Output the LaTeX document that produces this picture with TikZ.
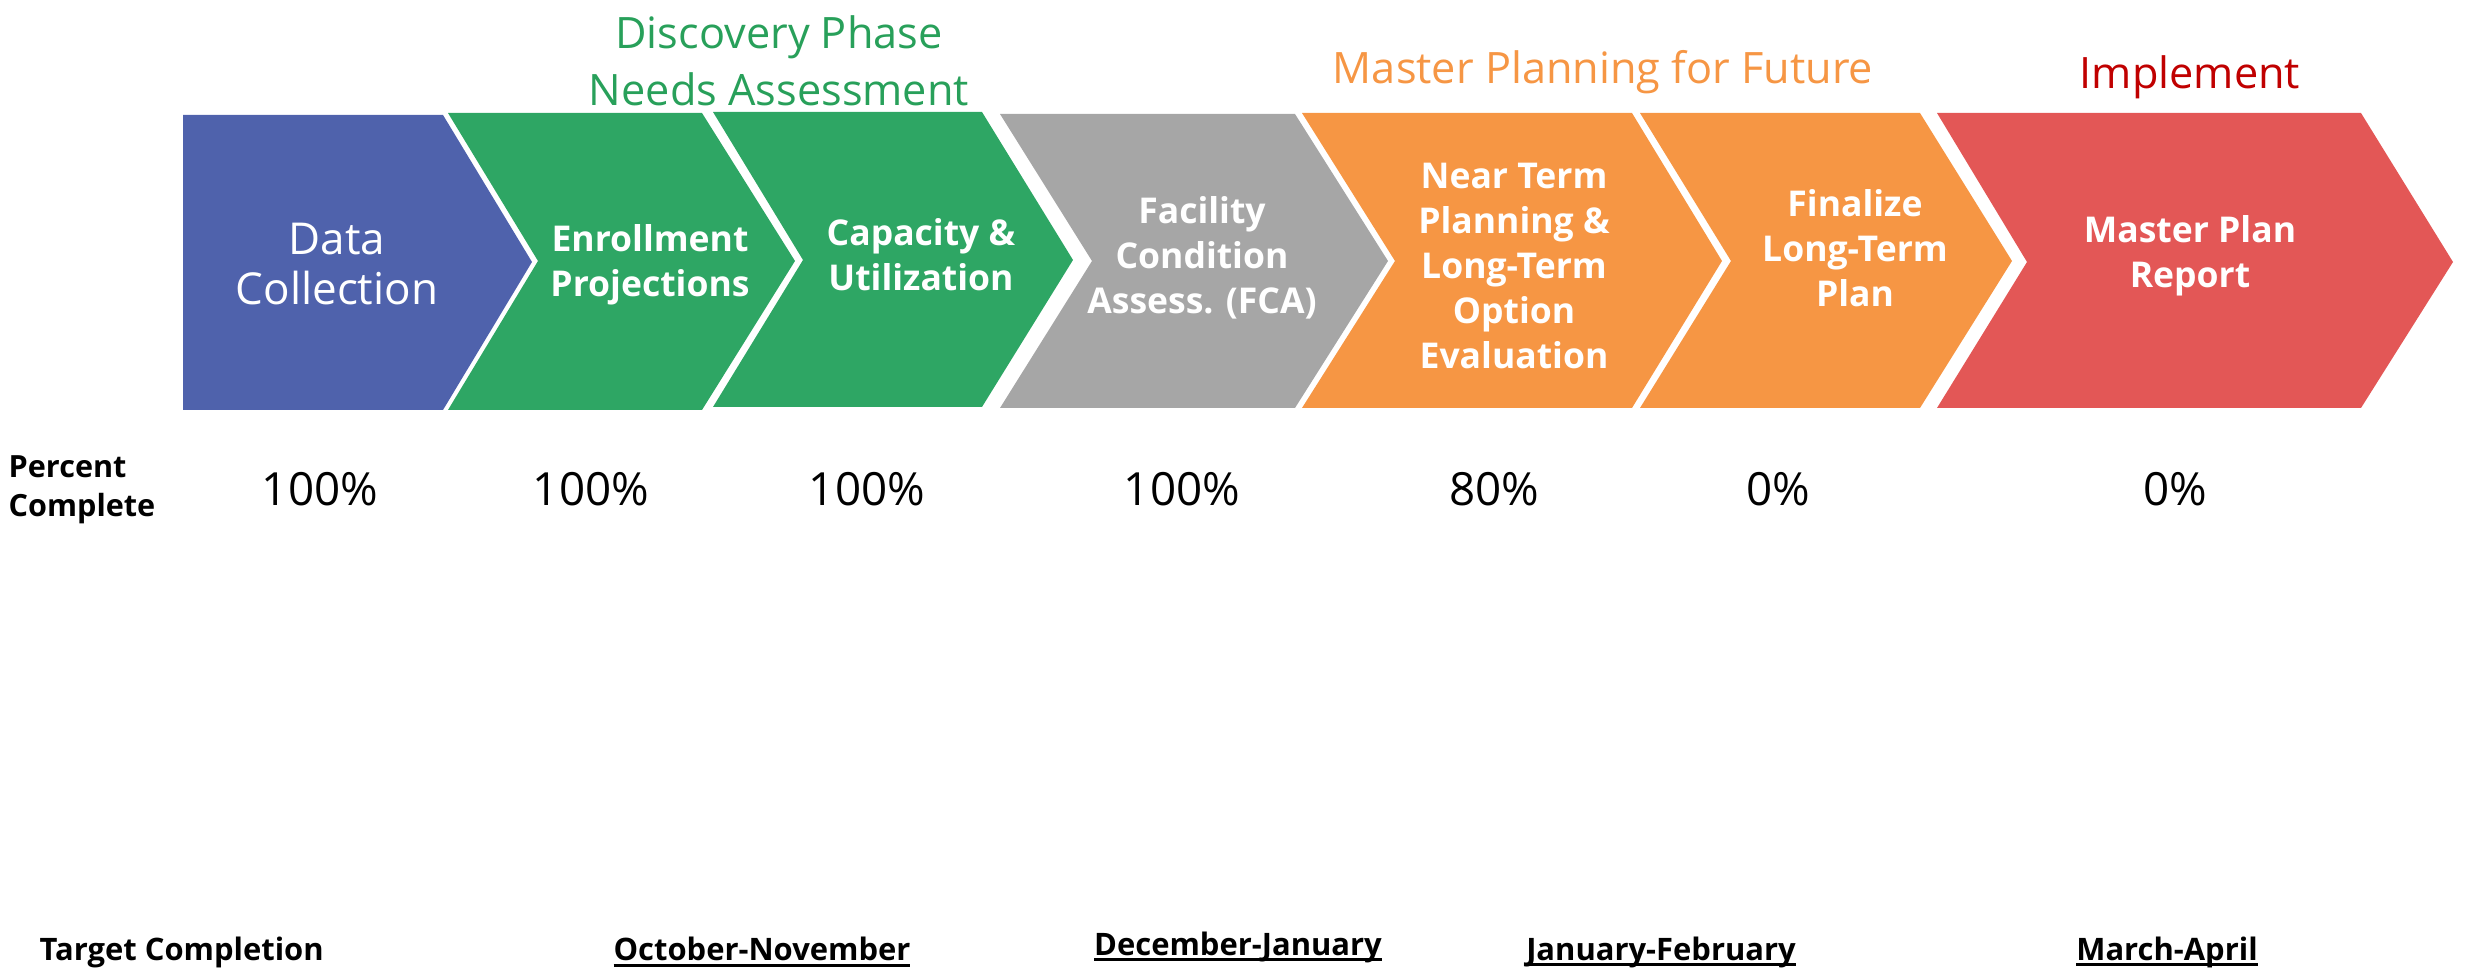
\documentclass[tikz,border=0pt]{standalone}
\usepackage{fontspec}
\setmainfont{Open Sans}
\newcommand\myul[1]{\setbox0\hbox{#1}\rlap{\rule[-1.8pt]{\wd0}{0.85pt}}\box0}
\definecolor{cblue}{RGB}{79,98,172}
\definecolor{cgreen}{RGB}{46,166,100}
\definecolor{cgray}{RGB}{166,166,166}
\definecolor{corange}{RGB}{246,150,68}
\definecolor{cred}{RGB}{227,87,86}
\definecolor{hgreen}{RGB}{40,160,90}
\definecolor{horange}{RGB}{246,150,68}
\definecolor{hred}{RGB}{192,0,0}
\tikzset{
  chevtext/.style={text=white,align=center,font=\fontsize{10.1}{12.8}\selectfont\bfseries},
  hdr/.style={align=center,font=\fontsize{12.3}{16.2}\selectfont},
  pct/.style={font=\fontsize{13}{15}\selectfont},
  tgt/.style={font=\fontsize{8.8}{11}\selectfont\bfseries},
}
\begin{document}
\begin{tikzpicture}[x=0.01cm,y=-0.01cm]
\useasboundingbox (0,0) rectangle (2471,980);
% chevrons
\fill[cblue] (183,115) -- (443,115) -- (532,262) -- (443,410) -- (183,410) -- cycle;
\fill[cgreen] (448,113) -- (702,113) -- (795,261) -- (702,410) -- (448,410) -- (538,261) -- cycle;
\fill[cgreen] (713,112) -- (982,112) -- (1073,260) -- (982,407) -- (713,407) -- (803,260) -- cycle;
\fill[cgray] (1000,114) -- (1295,114) -- (1388,261) -- (1295,408) -- (1000,408) -- (1092,261) -- cycle;
\fill[corange] (1302,113) -- (1632,113) -- (1722,261) -- (1632,408) -- (1302,408) -- (1395,261) -- cycle;
\fill[corange] (1640,113) -- (1920,113) -- (2012,261) -- (1920,408) -- (1640,408) -- (1731,261) -- cycle;
\fill[cred] (1937,113) -- (2361,113) -- (2453,262) -- (2361,408) -- (1937,408) -- (2027,262) -- cycle;
% chevron texts
\node[chevtext,font=\fontsize{12.5}{14}\selectfont] (t1) at (337,264) {Data\\Collection};
\node[chevtext] (t2) at (650,265) {Enrollment\\Projections};
\node[chevtext] (t3) at (921,255) {Capacity \&\\Utilization};
\node[chevtext] (t4) at (1202,258) {Facility\\Condition\\Assess. (FCA)};
\node[chevtext] (t5) at (1514,266) {Near Term\\Planning \&\\Long-Term\\Option\\Evaluation};
\node[chevtext] (t6) at (1855,248) {Finalize\\Long-Term\\Plan};
\node[chevtext] (t7) at (2190,256) {Master Plan\\Report};
% headers
\node[hdr,text=hgreen] (h1) at (779,61) {Discovery Phase\\Needs Assessment};
\node[hdr,text=horange] (h2) at (1603,72) {Master Planning for Future};
\node[hdr,text=hred] (h3) at (2190,77) {Implement};
% percent row
\node[tgt,anchor=west,align=left,inner sep=0pt,font=\fontsize{8.7}{11}\selectfont\bfseries] (pc) at (8,490) {Percent\\Complete};
\node[pct] (p1) at (320,489) {100\%};
\node[pct] (p2) at (591,489) {100\%};
\node[pct] (p3) at (867,489) {100\%};
\node[pct] (p4) at (1182,489) {100\%};
\node[pct] (p5) at (1494,489) {80\%};
\node[pct] (p6) at (1778,489) {0\%};
\node[pct] (p7) at (2175,489) {0\%};
% target row
\node[tgt,anchor=west,inner sep=0pt] (tc) at (39,952) {Target Completion};
\node[tgt] (d1) at (762,952) {\myul{October-November}};
\node[tgt] (d2) at (1238,947) {\myul{December-January}};
\node[tgt] (d3) at (1661,952) {\myul{January-February}};
\node[tgt] (d4) at (2167,952) {\myul{March-April}};
\end{tikzpicture}
\end{document}
